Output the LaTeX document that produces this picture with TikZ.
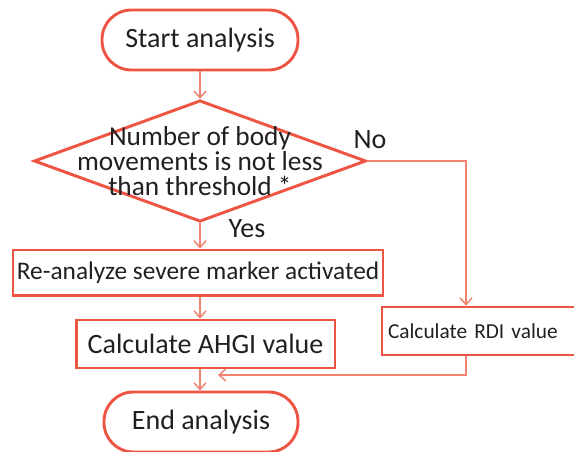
\documentclass[tikz,border=0pt]{standalone}
\usepackage{fontspec}
\setmainfont{Carlito}
\usetikzlibrary{shapes.geometric,arrows.meta}
\definecolor{flowred}{RGB}{238,84,66}
\definecolor{linkred}{RGB}{242,130,112}
\definecolor{inkgray}{RGB}{35,31,32}
\tikzset{
  terminal/.style={draw=flowred,line width=2.2pt,rounded corners=22pt,
    minimum width=147pt,minimum height=45pt,text=inkgray,
    font=\fontsize{21}{24}\selectfont},
  decision/.style={draw=flowred,line width=2.2pt,shape=diamond,
    minimum width=249pt,minimum height=91pt,inner sep=0pt},
  process/.style={draw=flowred,line width=2pt,text=inkgray,inner sep=0pt},
  link/.style={draw=linkred,line width=1.1pt,-{Straight Barb[length=5pt,width=9pt]}},
  answer/.style={text=inkgray,font=\fontsize{21}{22}\selectfont}
}
\begin{document}
\begin{tikzpicture}[x=0.75pt,y=-0.75pt]
  \useasboundingbox (0,0) rectangle (574,452);
  \node[terminal] (start) at (200,40) {Start analysis};
  \node[decision] (check) at (200,161) {};
  \node[text=inkgray,align=center,font=\fontsize{20.5}{18.5}\selectfont] (checktext) at (check) {Number of body\\movements is not less\\than threshold *};
  \node[process,minimum width=277.5pt,minimum height=34pt,
    font=\fontsize{19}{20}\selectfont] (reanalyze) at (198,272.5) {Re-analyze severe marker activated};
  \node[process,minimum width=194pt,minimum height=36pt,
    font=\fontsize{21}{22}\selectfont] (ahgi) at (205.5,344) {Calculate AHGI value};
  \node[process,text width=139.5pt,inner xsep=4.5pt,minimum height=36pt,align=left,
    font=\fontsize{16}{18}\selectfont] (rdi) at (481,331) {Calculate RDI value};
  \node[terminal,minimum width=145.5pt] (finish) at (201,422) {End analysis};
  \node[answer] (no) at (370,140) {No};
  \node[answer] (yes) at (247,229) {Yes};
  \coordinate (nojoin) at (466,161);
  \coordinate (merge) at (218,375);
  % main path
  \draw[link] (start) -- (check.north);
  \draw[link] (check.south) -- (check.south |- reanalyze.north);
  \draw[link] (check.south |- reanalyze.south) -- (check.south |- ahgi.north);
  \draw[link] (check.south |- ahgi.south) -- (check.south |- finish.north);
  % "No" branch
  \draw[link] (check.east) -- (nojoin) -- (nojoin |- rdi.north);
  \draw[link] (nojoin |- rdi.south) -- (nojoin |- merge) -- (merge);
\end{tikzpicture}
\end{document}
